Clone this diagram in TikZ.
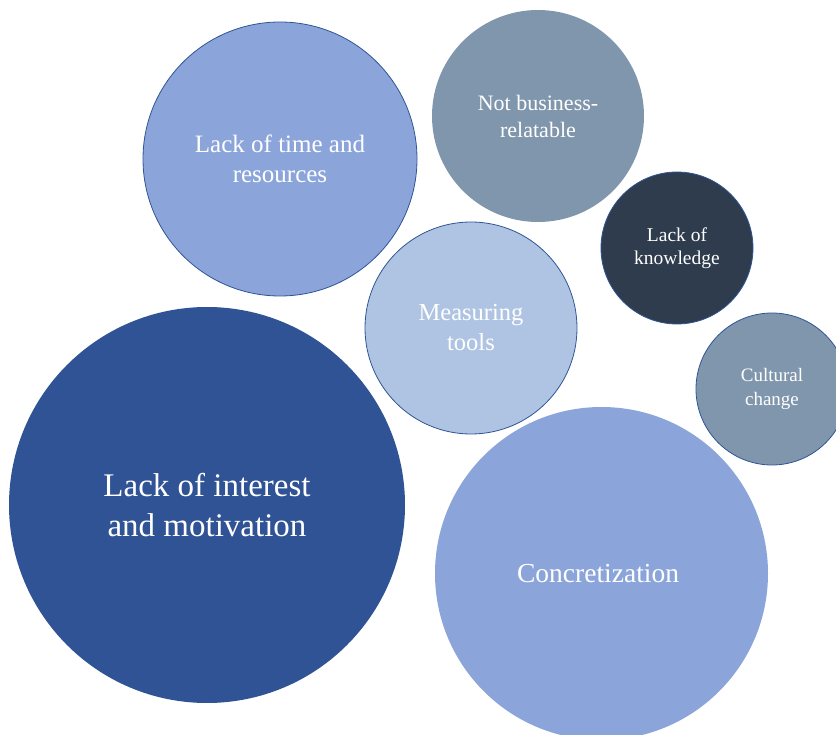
\documentclass[tikz,border=0pt]{standalone}
\usepackage{fontspec}
\setmainfont{Liberation Serif}
\usepackage{xcolor}
\definecolor{midblue}{RGB}{139,165,218}
\definecolor{paleblue}{RGB}{175,196,227}
\definecolor{deepblue}{RGB}{47,83,148}
\definecolor{greyblue}{RGB}{128,150,172}
\definecolor{slatecolor}{RGB}{46,60,78}
\definecolor{rimcolor}{RGB}{47,85,151}

\begin{document}
\begin{tikzpicture}[x=1pt, y=-1pt]
  \tikzset{
    bubble/.style={
      circle,
      inner sep=0pt,
      align=center,
      text=white,
      line width=0.8pt
    },
    rimmed/.style={
      bubble,
      draw=rimcolor
    }
  }

  \clip (0,0) rectangle (836,735);

  % Draw the bubbles
    \node[rimmed, fill=midblue, minimum size=274pt,
      font={\fontsize{25}{30}\selectfont}] at (280, 159) (time) {
        Lack of time and\\resources
    };
    \node[bubble, fill=greyblue, minimum size=212pt,
      font={\fontsize{22}{27}\selectfont}] at (538, 116) (notbiz) {
        Not business-\\relatable
    };
    \node[rimmed, fill=slatecolor, minimum size=152pt,
      font={\fontsize{19.5}{23.5}\selectfont}] at (677, 248) (know) {
        Lack of\\knowledge
    };
    \node[rimmed, fill=greyblue, minimum size=152pt,
      font={\fontsize{19}{23.5}\selectfont}] at (772, 389) (culture) {
        Cultural\\change
    };
    \node[rimmed, fill=paleblue, minimum size=212pt,
      font={\fontsize{24.5}{30}\selectfont}] at (471, 328) (measure) {
        Measuring\\tools
    };

    % Largest bubbles
    \node[bubble, fill=deepblue, minimum size=396pt,
      font={\fontsize{33}{40}\selectfont}] at (207, 505) (interest) {
        Lack of interest\\and motivation
    };
    \node[bubble, fill=midblue, minimum size=333pt,
      font={\fontsize{27.5}{33}\selectfont}] at (601.5, 573.5) (concrete) {
        Concretization
    };

\end{tikzpicture}
\end{document}
